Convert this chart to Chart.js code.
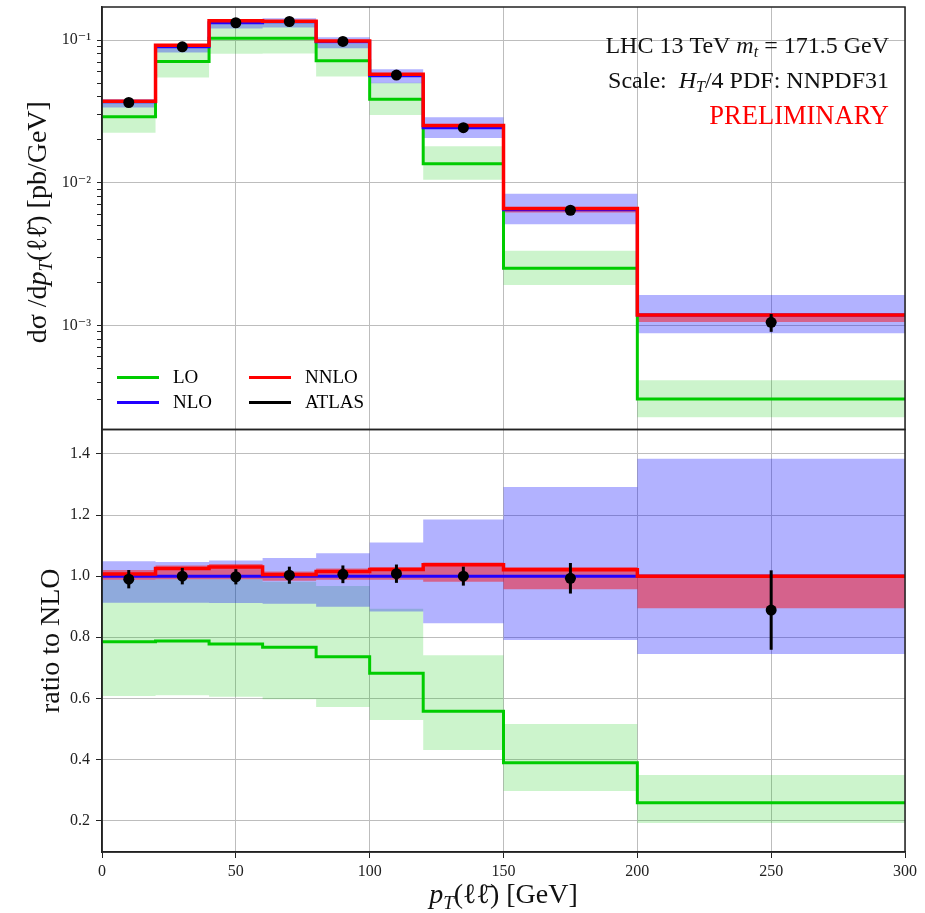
<!DOCTYPE html>
<html>
<head>
<meta charset="utf-8">
<title>pT(ll) differential cross section</title>
<script src="https://cdn.jsdelivr.net/npm/chart.js@4.4.1/dist/chart.umd.min.js"></script>
<style>
    html, body { margin: 0; padding: 0; background: #fff; }
    #plot { display: block; }
</style>
</head>
<body>
<canvas id="plot" width="925" height="913"></canvas>
<script>
// Binning in pT(ll) [GeV]
const binEdges = [0, 20, 40, 60, 80, 100, 120, 150, 200, 300];
const binCenters = [10, 30, 50, 70, 90, 110, 135, 175, 250];

// Upper panel: dsigma/dpT [pb/GeV]
const atlasTop = [0.0365, 0.0897, 0.1323, 0.1350, 0.0978, 0.0568, 0.0243, 0.00641, 0.00105];
const atlasTopErr = [0.0011, 0.0024, 0.0033, 0.0038, 0.0028, 0.0017, 0.00075, 0.00032, 0.00015];
const loTop = [0.0290, 0.0707, 0.1031, 0.1032, 0.0715, 0.0384, 0.01356, 0.00251, 0.000304];
const loTopLow = [0.0224, 0.0547, 0.0802, 0.0804, 0.0556, 0.0298, 0.01047, 0.00192, 0.000227];
const loTopHigh = [0.0365, 0.0888, 0.1312, 0.1322, 0.0941, 0.0503, 0.0180, 0.00333, 0.000412];
const nloTop = [0.0369, 0.0897, 0.1325, 0.1346, 0.0972, 0.0563, 0.0243, 0.00646, 0.00118];
const nloTopLow = [0.0337, 0.0819, 0.1208, 0.1225, 0.0875, 0.0498, 0.02056, 0.00511, 0.000879];
const nloTopHigh = [0.0387, 0.0938, 0.1393, 0.1425, 0.1045, 0.0625, 0.0288, 0.00835, 0.00163];
const nnloTop = [0.0372, 0.0919, 0.1365, 0.1353, 0.0987, 0.0575, 0.0252, 0.00660, 0.00118];
const nnloTopLow = [0.0365, 0.0888, 0.1312, 0.1326, 0.0960, 0.0556, 0.02386, 0.00618, 0.001056];
const nnloTopHigh = [0.0376, 0.0928, 0.1378, 0.1366, 0.0996, 0.0580, 0.0254, 0.00665, 0.001186];

// Lower panel: ratio to NLO
const atlasRatio = [0.990, 1.000, 0.998, 1.003, 1.006, 1.008, 1.000, 0.993, 0.889];
const atlasRatioErr = [0.030, 0.027, 0.025, 0.028, 0.029, 0.030, 0.031, 0.050, 0.130];
const loRatio = [0.785, 0.788, 0.778, 0.767, 0.736, 0.682, 0.558, 0.389, 0.258];
const loRatioLow = [0.608, 0.610, 0.605, 0.597, 0.572, 0.529, 0.431, 0.297, 0.192];
const loRatioHigh = [0.988, 0.990, 0.990, 0.982, 0.968, 0.893, 0.741, 0.516, 0.349];
const nloRatio = [1, 1, 1, 1, 1, 1, 1, 1, 1];
const nloRatioLow = [0.913, 0.913, 0.912, 0.910, 0.900, 0.884, 0.846, 0.791, 0.745];
const nloRatioHigh = [1.049, 1.046, 1.051, 1.059, 1.075, 1.110, 1.185, 1.292, 1.384];
const nnloRatio = [1.007, 1.025, 1.030, 1.005, 1.015, 1.022, 1.037, 1.021, 1.000];
const nnloRatioLow = [0.988, 0.990, 0.990, 0.985, 0.988, 0.988, 0.982, 0.957, 0.895];
const nnloRatioHigh = [1.020, 1.035, 1.040, 1.015, 1.025, 1.030, 1.045, 1.030, 1.005];

// Axis ticks
const xTicks = [0, 50, 100, 150, 200, 250, 300];
const ratioTicks = [0.2, 0.4, 0.6, 0.8, 1.0, 1.2, 1.4];

const SERIF = '"Liberation Serif", "DejaVu Serif", serif';
const GREEN = '#00cc00';
const BLUE = '#2200ff';
const RED = '#ff0000';

// histogram outline: one point per bin edge, last value repeated at the end
function stepPoints(vals) {
    return binEdges.map((x, i) => ({ x, y: vals[Math.min(i, vals.length - 1)] }));
}

function pointsAt(vals) {
    return binCenters.map((x, i) => ({ x, y: vals[i] }));
}

function lineSet(vals, color, width, axis, order) {
    return {
        data: stepPoints(vals),
        yAxisID: axis,
        borderColor: color,
        borderWidth: width,
        stepped: true,
        pointRadius: 0,
        fill: false,
        order
    };
}

// band = upper edge filled down to the following (lower edge) dataset
function bandSets(low, high, color, axis, order) {
    return [
        {
            data: stepPoints(high),
            yAxisID: axis,
            borderWidth: 0,
            borderColor: 'rgba(0,0,0,0)',
            backgroundColor: color,
            stepped: true,
            pointRadius: 0,
            fill: '+1',
            order
        },
        {
            data: stepPoints(low),
            yAxisID: axis,
            borderWidth: 0,
            borderColor: 'rgba(0,0,0,0)',
            stepped: true,
            pointRadius: 0,
            fill: false,
            order
        }
    ];
}

function atlasSet(vals, axis) {
    return {
        data: pointsAt(vals),
        yAxisID: axis,
        showLine: false,
        pointRadius: 5.5,
        pointBackgroundColor: '#000',
        pointBorderWidth: 0,
        order: 0
    };
}

function isDecade(v) {
    const e = Math.log10(v);
    return Math.abs(e - Math.round(e)) < 1e-9;
}

function isLogStep(v) {
    const s = v / Math.pow(10, Math.floor(Math.log10(v) + 1e-9));
    return Math.abs(s - Math.round(s)) < 1e-6;
}

const SUP = { '-': '\u207B', '0': '\u2070', '1': '\u00B9', '2': '\u00B2', '3': '\u00B3', '4': '\u2074' };
function powerLabel(v) {
    const e = String(Math.round(Math.log10(v)));
    return '10' + e.split('').map(c => SUP[c]).join('');
}

// text made of differently styled pieces: [text, size, style, dy]
function drawRich(ctx, parts, x, y, align) {
    let total = 0;
    const widths = parts.map(p => {
        ctx.font = `${p[2] || ''} ${p[1]}px ${SERIF}`;
        const w = ctx.measureText(p[0]).width;
        total += w;
        return w;
    });
    let cx = align === 'right' ? x - total : align === 'center' ? x - total / 2 : x;
    ctx.textAlign = 'left';
    parts.forEach((p, i) => {
        ctx.font = `${p[2] || ''} ${p[1]}px ${SERIF}`;
        ctx.fillText(p[0], cx, y + (p[3] || 0));
        cx += widths[i];
    });
}

// fixed axis size, no extra room for overhanging end labels
function fixedSize(prop, size) {
    return s => {
        s[prop] = size;
        s.paddingTop = 0;
        s.paddingBottom = 0;
        s.paddingLeft = 0;
        s.paddingRight = 0;
    };
}

const errorBars = {
    id: 'errorBars',
    afterDatasetsDraw(chart) {
        const { ctx, scales } = chart;
        ctx.save();
        ctx.strokeStyle = '#000';
        ctx.lineWidth = 3;
        const sets = [[atlasTop, atlasTopErr, scales.yTop], [atlasRatio, atlasRatioErr, scales.yRatio]];
        sets.forEach(([vals, errs, ys]) => {
            vals.forEach((v, i) => {
                const px = scales.x.getPixelForValue(binCenters[i]);
                ctx.beginPath();
                ctx.moveTo(px, ys.getPixelForValue(v - errs[i]));
                ctx.lineTo(px, ys.getPixelForValue(v + errs[i]));
                ctx.stroke();
            });
        });
        ctx.restore();
    }
};

const decorations = {
    id: 'decorations',
    afterDraw(chart) {
        const { ctx, chartArea, scales } = chart;
        const top = scales.yTop;
        const bot = scales.yRatio;
        ctx.save();

        // panel frames
        ctx.strokeStyle = '#222';
        ctx.lineWidth = 1.5;
        ctx.strokeRect(chartArea.left, top.top, chartArea.right - chartArea.left, top.bottom - top.top);
        ctx.strokeRect(chartArea.left, bot.top, chartArea.right - chartArea.left, bot.bottom - bot.top);

        // legend, two columns
        const entries = [
            ['LO', GREEN, 0, 0], ['NLO', BLUE, 0, 1],
            ['NNLO', RED, 1, 0], ['ATLAS', '#000', 1, 1]
        ];
        const lx = chartArea.left + 15;
        const ly = top.bottom - 52;
        ctx.textBaseline = 'middle';
        entries.forEach(([label, color, col, row]) => {
            const x0 = lx + col * 132;
            const y0 = ly + row * 25;
            ctx.strokeStyle = color;
            ctx.lineWidth = 3;
            ctx.beginPath();
            ctx.moveTo(x0, y0);
            ctx.lineTo(x0 + 42, y0);
            ctx.stroke();
            ctx.fillStyle = '#000';
            ctx.font = `19px ${SERIF}`;
            ctx.textAlign = 'left';
            ctx.fillText(label, x0 + 56, y0 + 1);
        });

        // run information, top right
        ctx.textBaseline = 'alphabetic';
        const rx = chartArea.right - 16;
        ctx.fillStyle = '#111';
        drawRich(ctx, [['LHC 13 TeV ', 24], ['m', 24, 'italic'], ['t', 16, 'italic', 4], [' = 171.5 GeV', 24]], rx, top.top + 46, 'right');
        drawRich(ctx, [['Scale:  ', 24], ['H', 24, 'italic'], ['T', 16, 'italic', 4], ['/4 PDF: NNPDF31', 24]], rx, top.top + 81, 'right');
        ctx.fillStyle = RED;
        drawRich(ctx, [['PRELIMINARY', 26.5]], rx, top.top + 117, 'right');

        // axis titles
        ctx.fillStyle = '#111';
        ctx.save();
        ctx.translate(46, (top.top + top.bottom) / 2 + 4);
        ctx.rotate(-Math.PI / 2);
        drawRich(ctx, [['d\u03C3 /d', 28], ['p', 28, 'italic'], ['T', 19, 'italic', 6], ['(\u2113\u2113\u0304) [pb/GeV]', 28]], 0, 0, 'center');
        ctx.restore();

        ctx.save();
        ctx.translate(59, (bot.top + bot.bottom) / 2);
        ctx.rotate(-Math.PI / 2);
        drawRich(ctx, [['ratio to NLO', 28]], 0, 0, 'center');
        ctx.restore();

        drawRich(ctx, [['p', 28, 'italic'], ['T', 19, 'italic', 6], ['(\u2113\u2113\u0304) [GeV]', 28]],
            (chartArea.left + chartArea.right) / 2, chartArea.bottom + 51, 'center');

        ctx.restore();
    }
};

const datasets = [
    atlasSet(atlasTop, 'yTop'),
    atlasSet(atlasRatio, 'yRatio'),
    lineSet(nnloTop, RED, 3.5, 'yTop', 1),
    lineSet(nnloRatio, RED, 3.5, 'yRatio', 1),
    lineSet(nloTop, BLUE, 3, 'yTop', 2),
    lineSet(nloRatio, BLUE, 3, 'yRatio', 2),
    lineSet(loTop, GREEN, 3, 'yTop', 3),
    lineSet(loRatio, GREEN, 3, 'yRatio', 3),
    ...bandSets(nnloTopLow, nnloTopHigh, 'rgba(255, 0, 0, 0.45)', 'yTop', 4),
    ...bandSets(nnloRatioLow, nnloRatioHigh, 'rgba(255, 0, 0, 0.45)', 'yRatio', 4),
    ...bandSets(nloTopLow, nloTopHigh, 'rgba(0, 0, 255, 0.3)', 'yTop', 5),
    ...bandSets(nloRatioLow, nloRatioHigh, 'rgba(0, 0, 255, 0.3)', 'yRatio', 5),
    ...bandSets(loTopLow, loTopHigh, 'rgba(0, 200, 0, 0.2)', 'yTop', 6),
    ...bandSets(loRatioLow, loRatioHigh, 'rgba(0, 200, 0, 0.2)', 'yRatio', 6)
];

const tickFont = { family: SERIF, size: 16 };

new Chart(document.getElementById('plot').getContext('2d'), {
    type: 'line',
    data: { datasets },
    options: {
        responsive: false,
        animation: false,
        devicePixelRatio: 1,
        layout: { autoPadding: false, padding: { top: 7, right: 20, left: 0, bottom: 0 } },
        plugins: {
            legend: { display: false },
            tooltip: { enabled: false }
        },
        scales: {
            x: {
                type: 'linear',
                min: 0,
                max: 300,
                afterBuildTicks: s => { s.ticks = xTicks.map(value => ({ value })); },
                ticks: { font: tickFont, color: '#222', maxRotation: 0, padding: 4 },
                grid: { color: '#bdbdbd', lineWidth: 1, tickLength: 6, tickColor: '#222' },
                border: { color: '#222', width: 1.5 },
                afterFit: fixedSize('height', 61)
            },
            yRatio: {
                type: 'linear',
                position: 'left',
                stack: 'panels',
                stackWeight: 1,
                min: 0.097,
                max: 1.48,
                afterBuildTicks: s => { s.ticks = ratioTicks.map(value => ({ value })); },
                ticks: { font: tickFont, color: '#222', padding: 6, callback: v => v.toFixed(1) },
                grid: { color: '#bdbdbd', lineWidth: 1, tickLength: 6, tickColor: '#222' },
                border: { color: '#222', width: 1.5 },
                afterFit: fixedSize('width', 102)
            },
            yTop: {
                type: 'logarithmic',
                position: 'left',
                stack: 'panels',
                stackWeight: 1,
                min: 1.86e-4,
                max: 0.1706,
                ticks: {
                    font: tickFont,
                    color: '#222',
                    padding: 6,
                    autoSkip: false,
                    callback: v => isDecade(v) ? powerLabel(v) : ''
                },
                grid: {
                    lineWidth: 1,
                    tickLength: 5,
                    color: c => (c.tick && isDecade(c.tick.value)) ? '#bdbdbd' : 'rgba(0,0,0,0)',
                    tickColor: c => (c.tick && isLogStep(c.tick.value)) ? '#222' : 'rgba(0,0,0,0)'
                },
                border: { color: '#222', width: 1.5 },
                afterFit: fixedSize('width', 102)
            }
        }
    },
    plugins: [errorBars, decorations]
});
</script>
</body>
</html>
